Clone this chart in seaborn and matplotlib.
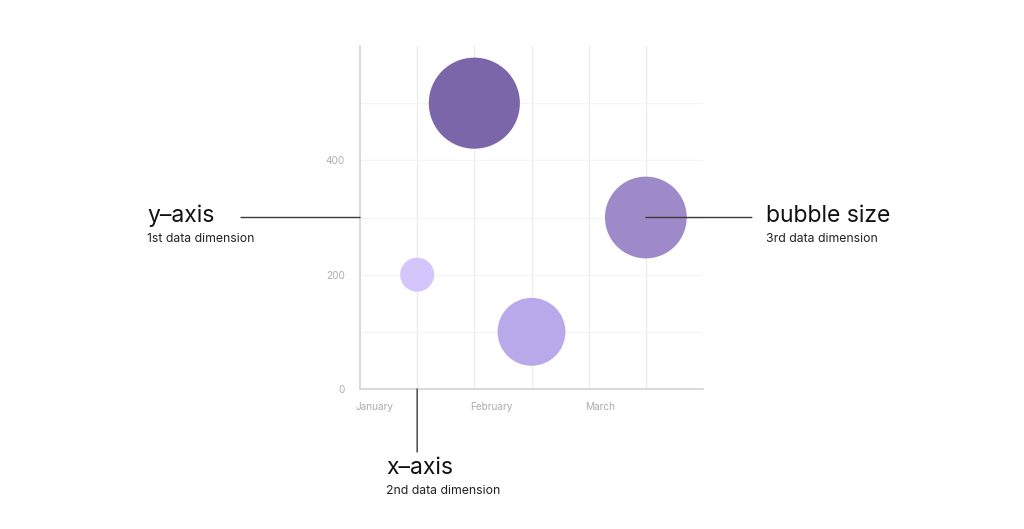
import matplotlib
matplotlib.use("Agg")
import matplotlib.pyplot as plt
import matplotlib.transforms as mtransforms
import seaborn as sns
import pandas as pd

# chart data
months = ["January", "February", "March"]
month_pos = [0.5, 1.0, 1.5, 2.5]
values = [200, 500, 100, 300]
bubble = [10, 72, 40, 58]
colors = ["#d4c5fb", "#7b66aa", "#b9a9ea", "#9e89c9"]

df = pd.DataFrame({"month": month_pos, "value": values, "bubble": bubble,
                   "id": range(len(values))})

sns.set_style("white")
plt.rcParams["font.family"] = ["Inter", "DejaVu Sans"]

fig = plt.figure(figsize=(10.24, 5.29), dpi=100)
ax = fig.add_axes([360 / 1024, 1 - 389 / 529, 343 / 1024, 343 / 529])

sns.scatterplot(data=df, x="month", y="value", size="bubble", hue="id",
                palette=colors, sizes=(600, 4300), size_norm=(10, 72),
                linewidth=0, alpha=1, legend=False, ax=ax, zorder=3)

ax.set_xlim(0, 3)
ax.set_ylim(0, 600)
ax.set_xticks(range(len(months)))
ax.set_xticklabels(months, ha="left")
ax.set_xticks([0.5, 1.5, 2.5], minor=True)
ax.set_yticks([0, 200, 400])
ax.set_yticks([100, 300, 500], minor=True)
ax.set_xlabel("")
ax.set_ylabel("")

for x in [0.5, 1.0, 1.5, 2.0, 2.5]:
    ax.axvline(x, color="#ebebeb", lw=0.9, zorder=0)
for y in [100, 200, 300, 400, 500]:
    ax.axhline(y, color="#f4f4f4", lw=0.9, zorder=0)

for side in ["top", "right"]:
    ax.spines[side].set_visible(False)
for side in ["left", "bottom"]:
    ax.spines[side].set_color("#d3d3d3")
    ax.spines[side].set_linewidth(1.2)

ax.tick_params(axis="both", which="major", length=4, width=1, color="#d3d3d3",
               labelsize=7.2, labelcolor="#adadad", direction="out")
ax.tick_params(axis="y", which="major", pad=7)
ax.tick_params(axis="x", which="major", pad=5)
ax.tick_params(which="minor", length=0)

shift = mtransforms.ScaledTranslation(-4 / 100, 0, fig.dpi_scale_trans)
for lbl in ax.get_xticklabels():
    lbl.set_transform(lbl.get_transform() + shift)

# annotation leaders
line_kw = dict(arrowstyle="-", color="#3a3a3a", lw=1, shrinkA=0, shrinkB=0)
ax.annotate("", xy=(0, 300), xytext=(-119, 0), textcoords="offset pixels",
            arrowprops=line_kw, annotation_clip=False)
ax.annotate("", xy=(2.5, 300), xytext=(106, 0), textcoords="offset pixels",
            arrowprops=line_kw, annotation_clip=False)
ax.annotate("", xy=(0.5, 0), xytext=(0, -63), textcoords="offset pixels",
            arrowprops=line_kw, annotation_clip=False)

def label(px, py, title, sub):
    fig.text(px / 1024, 1 - py / 529, title, fontsize=16.5, color="#111111",
             ha="left", va="baseline")
    fig.text(px / 1024, 1 - (py + 20) / 529, sub, fontsize=8.8,
             color="#222222", ha="left", va="baseline")

label(147, 222, "y\u2013axis", "1st data dimension")
label(766, 222, "bubble size", "3rd data dimension")
label(386, 474, "x\u2013axis", "2nd data dimension")

fig.savefig("out.png", dpi=100, facecolor="white")
